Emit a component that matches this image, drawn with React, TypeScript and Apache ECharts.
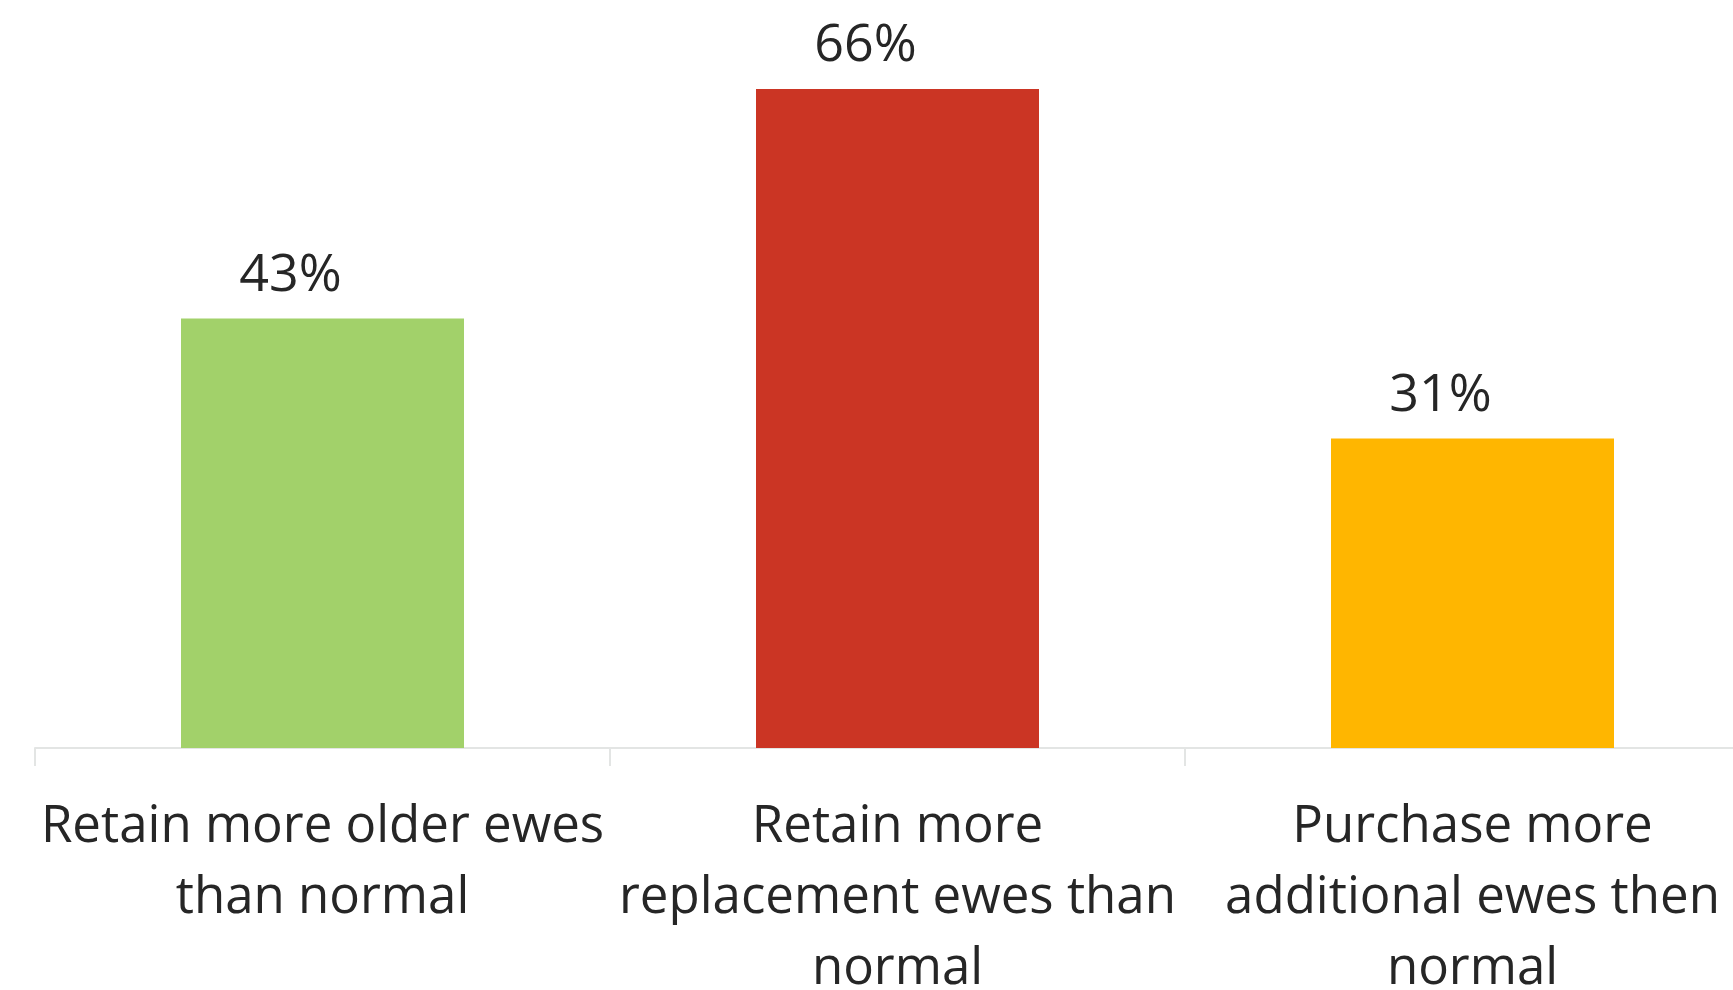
import React, { useEffect, useRef } from "react";
import * as echarts from "echarts";

const categories: string[] = [
  "Retain more older ewes\nthan normal",
  "Retain more\nreplacement ewes than\nnormal",
  "Purchase more\nadditional ewes then\nnormal",
];
const values: number[] = [43, 66, 31];
const barColors: string[] = ["#A2D16A", "#CB3524", "#FFB600"];

export default function App() {
  const ref = useRef<HTMLDivElement>(null);
  useEffect(() => {
    if (!ref.current) return;
    const chart = echarts.init(ref.current, null, { renderer: "svg" });
    chart.setOption({
      animation: false,
      backgroundColor: "#ffffff",
      grid: {
        left: 35,
        right: 0,
        top: 49,
        bottom: 242,
        containLabel: false,
        outerBoundsMode: "none",
      },
      xAxis: {
        type: "category",
        data: categories,
        axisLine: { show: true, lineStyle: { color: "#E3E5E4", width: 2 } },
        axisTick: { show: true, length: 18, lineStyle: { color: "#E3E5E4", width: 2 } },
        axisLabel: {
          interval: 0,
          margin: 38,
          fontFamily: "Open Sans",
          fontSize: 51,
          lineHeight: 71,
          color: "#262626",
          align: "center",
        },
      },
      yAxis: {
        type: "value",
        min: 0,
        max: 70,
        show: false,
        splitLine: { show: false },
      },
      series: [
        {
          type: "bar",
          barWidth: 283,
          data: values.map((v, i) => ({ value: v, itemStyle: { color: barColors[i] } })),
          label: {
            show: true,
            position: "top",
            distance: 22,
            offset: [-32, 0],
            formatter: (p: any) => `${p.value}%`,
            fontFamily: "Open Sans",
            fontSize: 52,
            color: "#262626",
          },
        },
      ],
    });
    return () => chart.dispose();
  }, []);
  return (
    <div
      style={{
        position: "fixed",
        left: 0,
        top: 0,
        width: 1733,
        height: 990,
        overflow: "hidden",
        background: "#ffffff",
      }}
    >
      <div ref={ref} style={{ width: 1760, height: 990 }} />
    </div>
  );
}
